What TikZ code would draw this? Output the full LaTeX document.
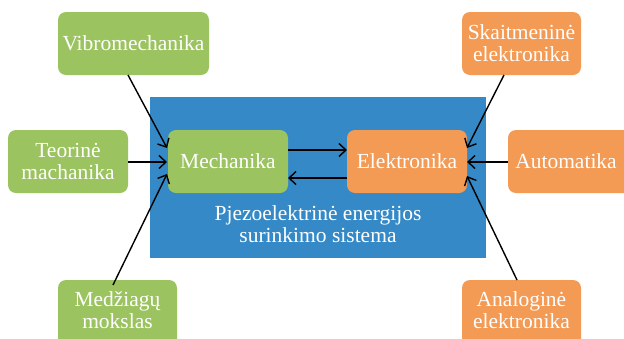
\documentclass[tikz,border=0pt]{standalone}
\usepackage{fontspec}
\setmainfont{Liberation Serif}
\usetikzlibrary{arrows.meta}
\definecolor{bgreen}{RGB}{155,195,95}
\definecolor{borange}{RGB}{243,154,85}
\definecolor{bblue}{RGB}{52,137,198}
\begin{document}
\begin{tikzpicture}[x=1pt,y=-1pt,
  box/.style={rounded corners=8pt},
  gbox/.style={box, fill=bgreen},
  obox/.style={box, fill=borange},
  lbl/.style={font=\fontsize{21.5}{22}\selectfont, text=white, align=center, inner sep=0pt},
  arr/.style={-{Straight Barb[length=7pt,width=13pt]}, line width=1.4pt, black}]
\useasboundingbox (0,0) rectangle (624,338);
\begin{scope}
\clip (0,0) rectangle (624,338);
\fill[bblue] (150,97) rectangle (486,258);
\node[lbl] (sys) at (318,224) {Pjezoelektrinė energijos\\surinkimo sistema};
\path[gbox] (58,12) rectangle (209,75);
\node[lbl] (vib) at (133.5,43.5) {Vibromechanika};
\path[gbox] (8,130) rectangle (128,193);
\node[lbl] (teo) at (68,161.5) {Teorinė\\machanika};
\path[gbox] (168,130) rectangle (288,193);
\node[lbl] (mec) at (228,161.5) {Mechanika};
\path[gbox] (58,280) rectangle (177,350);
\node[lbl] (med) at (117.5,310) {Medžiagų\\mokslas};
\path[obox] (347,130) rectangle (467,193);
\node[lbl] (ele) at (407,161.5) {Elektronika};
\path[obox] (508,130) rectangle (640,193);
\node[lbl] (aut) at (566,161.5) {Automatika};
\path[obox] (462,12) rectangle (581,75);
\node[lbl] (ska) at (521.5,43.5) {Skaitmeninė\\elektronika};
\path[obox] (462,280) rectangle (581,350);
\node[lbl] (ana) at (521.5,310) {Analoginė\\elektronika};
\coordinate (vibS) at (128,75);
\coordinate (mecA) at (167,148);
\coordinate (teoS) at (128,162);
\coordinate (mecB) at (167,162);
\coordinate (medS) at (113,285);
\coordinate (mecC) at (167,174);
\coordinate (mecR1) at (288,150);
\coordinate (eleL1) at (347,150);
\coordinate (eleL2) at (347,178);
\coordinate (mecR2) at (288,178);
\coordinate (skaS) at (504,75);
\coordinate (eleA) at (467,148);
\coordinate (autS) at (508,162);
\coordinate (eleB) at (467,162);
\coordinate (anaS) at (517,280);
\coordinate (eleC) at (467,176);
\draw[arr] (vibS) -- (mecA);
\draw[arr] (teoS) -- (mecB);
\draw[arr] (medS) -- (mecC);
\draw[arr] (mecR1) -- (eleL1);
\draw[arr] (eleL2) -- (mecR2);
\draw[arr] (skaS) -- (eleA);
\draw[arr] (autS) -- (eleB);
\draw[arr] (anaS) -- (eleC);
\end{scope}
\end{tikzpicture}
\end{document}
